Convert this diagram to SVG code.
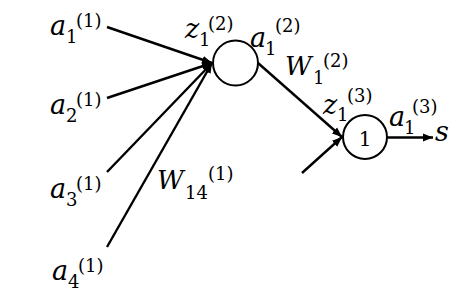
<svg xmlns="http://www.w3.org/2000/svg" width="475" height="297" viewBox="0 0 475 297">
<style>
text{font-family:'DejaVu Serif',serif;fill:#000}
.v{font-style:italic;font-size:27px}
.w{font-style:italic;font-size:26px}
.s{font-size:18px;font-style:normal}
.e{stroke:#000;stroke-width:2.4;fill:none}
.n{stroke:#000;stroke-width:2;fill:#fff}
</style>
<defs>
<marker id="ah" markerUnits="userSpaceOnUse" markerWidth="11" markerHeight="9" refX="10" refY="4.5" orient="auto">
<path d="M0,0.5 L10,4.5 L0,8.5 Z" fill="#000"/>
</marker>
</defs>
<rect width="475" height="297" fill="#fff"/>
<g id="connectors">
<line class="e" x1="107" y1="27" x2="212" y2="63" marker-end="url(#ah)"/>
<line class="e" x1="107" y1="98" x2="212" y2="63" marker-end="url(#ah)"/>
<line class="e" x1="107" y1="172" x2="212" y2="63" marker-end="url(#ah)"/>
<line class="e" x1="107" y1="247" x2="212" y2="63" marker-end="url(#ah)"/>
<line class="e" x1="258" y1="63" x2="342" y2="137" marker-end="url(#ah)"/>
<line class="e" x1="302" y1="173" x2="342" y2="137" marker-end="url(#ah)"/>
<line class="e" x1="387" y1="137.5" x2="433" y2="137.5" marker-end="url(#ah)"/>
</g>
<g id="hidden1">
<circle class="n" cx="235.5" cy="63" r="22.5"/>
</g>
<g id="output1">
<circle class="n" cx="365" cy="137" r="22"/>
<text x="365" y="146" font-size="20" text-anchor="middle">1</text>
</g>
<g id="labels">
<text><tspan class="v" x="50" y="35">a</tspan><tspan class="s" x="66" y="43">1</tspan><tspan class="s" x="76" y="27">(1)</tspan></text>
<text><tspan class="v" x="50" y="114">a</tspan><tspan class="s" x="66" y="122">2</tspan><tspan class="s" x="76" y="106">(1)</tspan></text>
<text><tspan class="v" x="50" y="198">a</tspan><tspan class="s" x="66" y="206">3</tspan><tspan class="s" x="76" y="190">(1)</tspan></text>
<text><tspan class="v" x="52" y="280">a</tspan><tspan class="s" x="68" y="288">4</tspan><tspan class="s" x="78" y="272">(1)</tspan></text>
<text><tspan class="v" x="185" y="38">z</tspan><tspan class="s" x="199" y="46">1</tspan><tspan class="s" x="208" y="30">(2)</tspan></text>
<text><tspan class="v" x="250" y="47">a</tspan><tspan class="s" x="265" y="55">1</tspan><tspan class="s" x="275" y="32">(2)</tspan></text>
<text><tspan class="w" x="285" y="75">W</tspan><tspan class="s" x="313" y="84">1</tspan><tspan class="s" x="323" y="67">(2)</tspan></text>
<text><tspan class="v" x="323" y="114">z</tspan><tspan class="s" x="337" y="121">1</tspan><tspan class="s" x="347" y="102">(3)</tspan></text>
<text><tspan class="v" x="389" y="126">a</tspan><tspan class="s" x="404" y="134">1</tspan><tspan class="s" x="412" y="113">(3)</tspan></text>
<text class="v" x="435" y="141">s</text>
<text><tspan class="w" x="157" y="189">W</tspan><tspan class="s" x="185" y="199">14</tspan><tspan class="s" x="208" y="180">(1)</tspan></text>
</g>
</svg>
